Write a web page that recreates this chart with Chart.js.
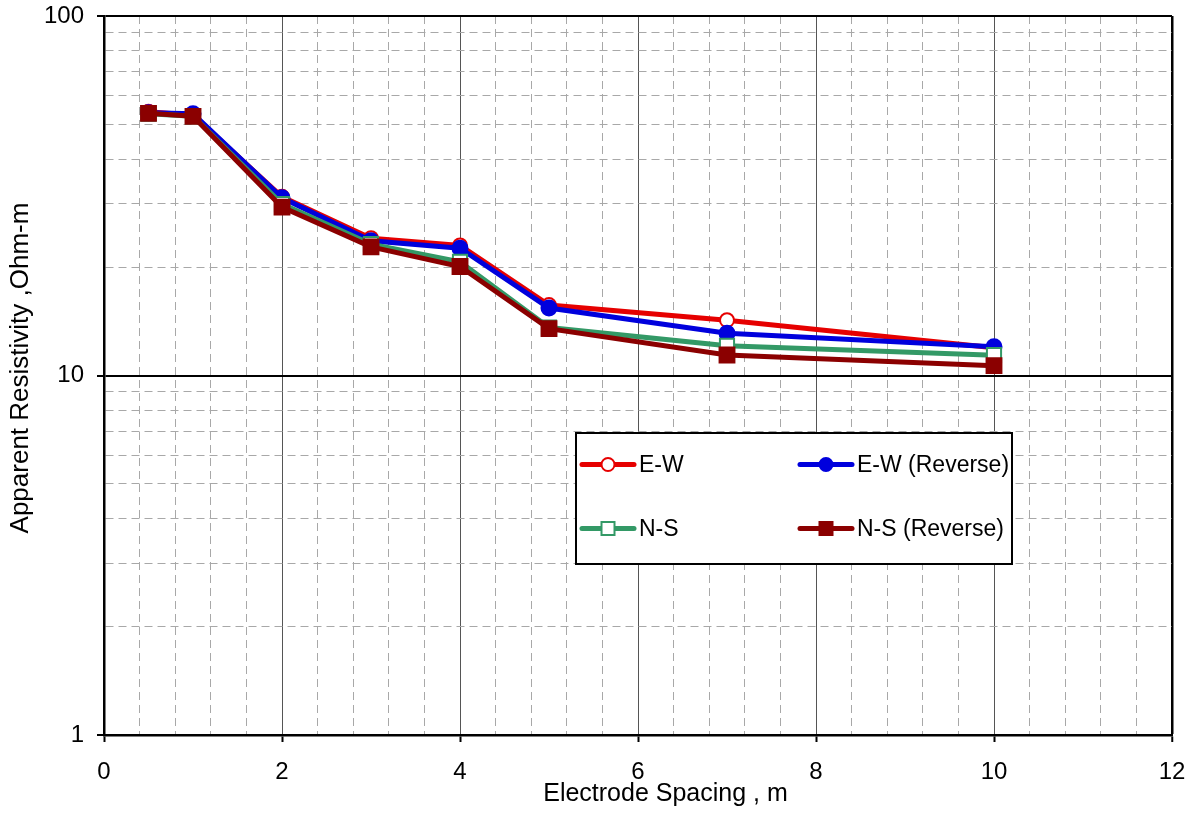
<!DOCTYPE html>
<html>
<head>
<meta charset="utf-8">
<script src="https://cdn.jsdelivr.net/npm/chart.js@4"></script>
<style>
  html, body { margin: 0; padding: 0; background: #fff; }
  #wrap { width: 1194px; height: 816px; position: relative; }
</style>
</head>
<body>
<div id="wrap"><canvas id="c" width="1194" height="816"></canvas></div>
<script>
// ---- data ----
const spacing = [0.5, 1, 2, 3, 4, 5, 7, 10];
const ewValues = [54.2, 53.0, 31.4, 24.1, 23.0, 15.7, 14.25, 11.95];
const ewReverseValues = [53.8, 53.5, 31.2, 23.7, 22.6, 15.4, 13.1, 12.03];
const nsValues = [53.5, 52.6, 30.0, 23.2, 20.7, 13.6, 12.1, 11.39];
const nsReverseValues = [53.6, 52.6, 29.4, 22.8, 20.1, 13.5, 11.4, 10.65];
const seriesLabels = ['E-W', 'E-W (Reverse)', 'N-S', 'N-S (Reverse)'];
const xTitle = 'Electrode Spacing , m';
const yTitle = 'Apparent Resistivity ,Ohm-m';
const xTickValues = [0,0.4,0.8,1.2,1.6,2,2.4,2.8,3.2,3.6,4,4.4,4.8,5.2,5.6,6,6.4,6.8,7.2,7.6,8,8.4,8.8,9.2,9.6,10,10.4,10.8,11.2,11.6,12];
const xLabelValues = [0, 2, 4, 6, 8, 10, 12];
const yTickValues = [1,2,3,4,5,6,7,8,9,10,20,30,40,50,60,70,80,90,100];
const yLabelValues = [1, 10, 100];

const FONT = '"Liberation Sans", Arial, sans-serif';
const near = (a, b) => Math.abs(a - b) < 1e-6;
const isXMajor = v => xLabelValues.some(m => near(m, v));
const isYMajor = v => yLabelValues.some(m => near(m, v));

function pts(vals) { return spacing.map((x, i) => ({ x: x, y: vals[i] })); }

const titlesPlugin = {
  id: 'axisTitles',
  afterDraw(chart) {
    const ctx = chart.ctx;
    ctx.save();
    ctx.fillStyle = '#000';
    ctx.textAlign = 'center';
    ctx.textBaseline = 'middle';
    ctx.font = '25px ' + FONT;
    ctx.fillText(xTitle, 665.5, 794);
    ctx.translate(21, 368);
    ctx.rotate(-Math.PI / 2);
    ctx.font = '26px ' + FONT;
    ctx.fillText(yTitle, 0, 0);
    ctx.restore();
  }
};

const legendPlugin = {
  id: 'boxLegend',
  afterDraw(chart) {
    const ctx = chart.ctx;
    const box = { x: 576, y: 433, w: 436, h: 131 };
    ctx.save();
    ctx.fillStyle = '#fff';
    ctx.fillRect(box.x, box.y, box.w, box.h);
    ctx.lineWidth = 2;
    ctx.strokeStyle = '#000';
    ctx.strokeRect(box.x, box.y, box.w, box.h);
    const slots = [
      { lx: 582, y: 464.5 }, { lx: 800, y: 464.5 },
      { lx: 582, y: 528.5 }, { lx: 800, y: 528.5 }
    ];
    chart.data.datasets.forEach((ds, i) => {
      const s = slots[i];
      ctx.lineWidth = 5;
      ctx.strokeStyle = ds.borderColor;
      ctx.lineCap = 'round';
      ctx.beginPath();
      ctx.moveTo(s.lx, s.y);
      ctx.lineTo(s.lx + 52, s.y);
      ctx.stroke();
      const cx = s.lx + 26;
      ctx.lineWidth = 2;
      ctx.fillStyle = ds.pointBackgroundColor;
      ctx.strokeStyle = ds.pointBorderColor;
      if (ds.pointStyle === 'circle') {
        ctx.beginPath();
        ctx.arc(cx, s.y, 6.5, 0, Math.PI * 2);
        ctx.fill(); ctx.stroke();
      } else {
        const h = 6.5;
        ctx.fillRect(cx - h, s.y - h, 2 * h, 2 * h);
        ctx.strokeRect(cx - h, s.y - h, 2 * h, 2 * h);
      }
      ctx.fillStyle = '#000';
      ctx.font = '23px ' + FONT;
      ctx.textBaseline = 'middle';
      ctx.textAlign = 'left';
      ctx.fillText(ds.label, s.lx + 57, s.y + 1);
    });
    ctx.restore();
  }
};

const common = { borderWidth: 5, pointBorderWidth: 2, tension: 0, fill: false, pointHoverRadius: 7 };

new Chart(document.getElementById('c'), {
  type: 'line',
  data: {
    datasets: [
      Object.assign({}, common, { label: seriesLabels[0], data: pts(ewValues), order: 4,
        borderColor: '#e60000', pointStyle: 'circle', pointRadius: 7,
        pointBackgroundColor: '#ffffff', pointBorderColor: '#e60000' }),
      Object.assign({}, common, { label: seriesLabels[1], data: pts(ewReverseValues), order: 3,
        borderColor: '#0000dd', pointStyle: 'circle', pointRadius: 7.5,
        pointBackgroundColor: '#0000dd', pointBorderColor: '#0000dd' }),
      Object.assign({}, common, { label: seriesLabels[2], data: pts(nsValues), order: 2,
        borderColor: '#339966', pointStyle: 'rect', pointRadius: 10,
        pointBackgroundColor: '#ffffff', pointBorderColor: '#339966' }),
      Object.assign({}, common, { label: seriesLabels[3], data: pts(nsReverseValues), order: 1,
        borderColor: '#8b0000', pointStyle: 'rect', pointRadius: 10.5,
        pointBackgroundColor: '#8b0000', pointBorderColor: '#8b0000' })
    ]
  },
  options: {
    responsive: false,
    animation: false,
    devicePixelRatio: 1,
    layout: { padding: { left: 0, top: 16, right: 22, bottom: 0 } },
    plugins: { legend: { display: false }, tooltip: { enabled: false } },
    scales: {
      x: {
        type: 'linear', min: 0, max: 12, position: 'bottom',
        afterBuildTicks: s => { s.ticks = xTickValues.map(v => ({ value: v })); },
        afterFit: s => { s.height = 81; s.paddingLeft = 0; s.paddingRight = 0; },
        ticks: {
          autoSkip: false, maxRotation: 0, padding: 16, color: '#000',
          font: { family: FONT, size: 24 },
          callback: v => isXMajor(v) ? String(Math.round(v)) : ''
        },
        grid: {
          color: c => { const v = c.tick ? c.tick.value : 0; return (near(v, 0) || near(v, 12)) ? '#000' : (isXMajor(v) ? '#555' : '#a8a8a8'); },
          lineWidth: c => { const v = c.tick ? c.tick.value : 0; return near(v, 12) ? 2.5 : 1; },
          tickLength: 7,
          tickWidth: 2,
          tickColor: c => (c.tick && isXMajor(c.tick.value)) ? '#000' : 'rgba(0,0,0,0)'
        },
        border: {
          display: true, color: '#000', width: 2.5,
          dash: c => (c.tick && !isXMajor(c.tick.value)) ? [8, 5] : []
        },
        title: { display: false }
      },
      y: {
        type: 'logarithmic', min: 1, max: 100, position: 'left',
        afterBuildTicks: s => { s.ticks = yTickValues.map(v => ({ value: v })); },
        afterFit: s => { s.width = 104; s.paddingTop = 0; s.paddingBottom = 0; },
        ticks: {
          autoSkip: false, padding: 13, color: '#000',
          font: { family: FONT, size: 24 },
          callback: v => isYMajor(v) ? String(v) : ''
        },
        grid: {
          color: c => { const v = c.tick ? c.tick.value : 0; return isYMajor(v) ? '#000' : '#a8a8a8'; },
          lineWidth: c => { const v = c.tick ? c.tick.value : 0; return isYMajor(v) ? 2 : 1; },
          tickLength: 7,
          tickWidth: 2,
          tickColor: c => (c.tick && isYMajor(c.tick.value)) ? '#000' : 'rgba(0,0,0,0)'
        },
        border: {
          display: true, color: '#000', width: 2.5,
          dash: c => (c.tick && !isYMajor(c.tick.value)) ? [8, 5] : []
        },
        title: { display: false }
      }
    }
  },
  plugins: [legendPlugin, titlesPlugin]
});
</script>
</body>
</html>
